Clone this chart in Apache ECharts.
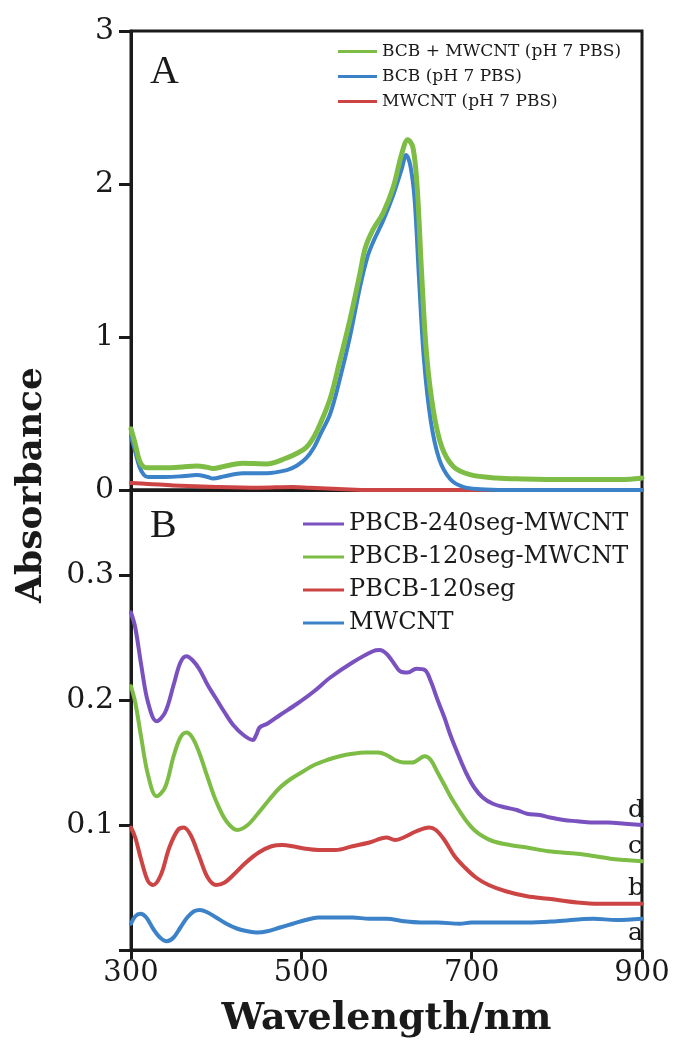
<!DOCTYPE html>
<html>
<head>
<meta charset="utf-8">
<script src="https://cdn.jsdelivr.net/npm/echarts@6/dist/echarts.min.js"></script>
<style>
html,body{margin:0;padding:0;background:#fff;}
#chart{width:675px;height:1047px;}
</style>
</head>
<body>
<div id="chart"></div>
<script>
// ---------- Panel A data ----------
const namesA = ['BCB + MWCNT (pH 7 PBS)', 'BCB (pH 7 PBS)', 'MWCNT (pH 7 PBS)'];
const wlA_green = [300,305,310,315,320,340,360,377,390,396,410,431,459,483,495,506,515,522,534,545,557,569,575,584,596,608,618,625,631,636,641,647,655,665,679,698,729,760,807,850,886,900];
const absA_green = [0.40,0.30,0.19,0.15,0.145,0.145,0.15,0.157,0.148,0.14,0.155,0.175,0.17,0.21,0.24,0.28,0.35,0.43,0.60,0.84,1.11,1.42,1.58,1.70,1.81,1.98,2.20,2.29,2.24,1.98,1.44,0.89,0.52,0.28,0.15,0.10,0.078,0.072,0.068,0.068,0.070,0.078];
const wlA_blue = [300,305,310,315,320,340,360,377,390,396,410,431,459,483,495,506,515,522,534,545,557,569,578,585,596,608,618,623,628,633,638,644,652,662,675,690,710,740,800,900];
const absA_blue = [0.35,0.25,0.15,0.10,0.085,0.085,0.09,0.098,0.085,0.075,0.09,0.11,0.11,0.13,0.16,0.21,0.28,0.36,0.50,0.72,1.0,1.33,1.53,1.63,1.76,1.93,2.10,2.19,2.12,1.90,1.40,0.85,0.45,0.20,0.07,0.02,0.005,0,0,0];
const wlA_red = [300,320,350,400,450,490,510,550,580,650,900];
const absA_red = [0.045,0.04,0.03,0.02,0.015,0.02,0.015,0.005,0,0,0];

// ---------- Panel B data ----------
const namesB = ['PBCB-240seg-MWCNT', 'PBCB-120seg-MWCNT', 'PBCB-120seg', 'MWCNT'];
const curveTags = ['d', 'c', 'b', 'a'];
const wlB_d = [300,305,312,320,330,340,350,358,365,372,380,390,400,410,420,432,443,447,451,460,475,495,515,534,560,584,592,600,608,616,625,635,645,652,660,668,675,685,694,703,713,725,740,753,765,780,792,808,824,840,860,880,900];
const absB_d = [0.270,0.258,0.228,0.198,0.183,0.190,0.212,0.230,0.235,0.232,0.225,0.212,0.201,0.190,0.180,0.172,0.168,0.172,0.178,0.181,0.188,0.197,0.207,0.218,0.230,0.239,0.240,0.237,0.230,0.223,0.222,0.225,0.224,0.215,0.200,0.186,0.172,0.155,0.141,0.130,0.122,0.117,0.114,0.112,0.109,0.108,0.106,0.104,0.103,0.102,0.102,0.101,0.100];
const wlB_c = [300,305,312,320,330,340,350,358,365,372,380,390,400,412,425,437,450,462,475,488,500,515,530,545,560,575,590,600,610,620,630,645,652,660,668,675,685,694,703,713,725,745,765,790,824,845,863,880,900];
const absB_c = [0.211,0.198,0.170,0.140,0.123,0.130,0.155,0.170,0.174,0.170,0.158,0.138,0.119,0.103,0.096,0.100,0.110,0.120,0.130,0.137,0.142,0.148,0.152,0.155,0.157,0.158,0.158,0.156,0.152,0.150,0.150,0.155,0.152,0.142,0.132,0.123,0.112,0.103,0.096,0.091,0.087,0.084,0.082,0.079,0.077,0.075,0.073,0.072,0.071];
const wlB_b = [300,305,312,320,326,335,345,355,362,370,380,390,400,410,420,435,450,465,478,490,505,520,540,560,580,600,610,620,635,650,658,668,680,692,705,720,740,765,790,824,850,870,900];
const absB_b = [0.098,0.090,0.072,0.055,0.052,0.060,0.082,0.096,0.098,0.092,0.075,0.058,0.052,0.054,0.060,0.070,0.078,0.083,0.084,0.083,0.081,0.080,0.080,0.083,0.086,0.090,0.088,0.090,0.095,0.098,0.096,0.088,0.075,0.066,0.058,0.052,0.047,0.043,0.041,0.038,0.037,0.037,0.037];
const wlB_a = [300,305,311,318,326,334,342,350,358,366,374,381,390,400,412,425,437,448,460,475,490,505,520,540,560,580,600,620,640,660,686,700,730,765,800,843,870,900];
const absB_a = [0.021,0.027,0.029,0.026,0.017,0.010,0.007,0.010,0.018,0.026,0.031,0.032,0.030,0.026,0.021,0.017,0.015,0.014,0.015,0.018,0.021,0.024,0.026,0.026,0.026,0.025,0.025,0.023,0.022,0.022,0.021,0.022,0.022,0.022,0.023,0.025,0.024,0.025];

// ---------- tick labels ----------
const xTicks = [300, 500, 700, 900];
const yTicksA = [0, 1, 2, 3];
const yTicksB = [0.1, 0.2, 0.3];

const GREEN = '#7dbd45', BLUE = '#3b82c8', RED = '#cc4444', PURPLE = '#7a52c0';
const SERIF = '"Liberation Serif", serif';
const WSERIF = '"DejaVu Serif", serif';
const INK = '#1a1a1a';

function pairs(xs, ys) { return xs.map((x, i) => [x, ys[i]]); }

const chart = echarts.init(document.getElementById('chart'));

const axisLineStyle = { lineStyle: { color: INK, width: 3 } };
const yTickStyle = { show: true, inside: false, length: 12, lineStyle: { color: INK, width: 3 } };

function lineSeries(name, xi, yi, data, color, width, tag) {
  const s = {
    name, type: 'line', xAxisIndex: xi, yAxisIndex: yi,
    data, smooth: 0.35, symbol: 'none', showSymbol: false,
    lineStyle: { color, width, join: 'round', cap: 'round' }, itemStyle: { color },
    emphasis: { disabled: true }, animation: false
  };
  if (tag) {
    s.endLabel = {
      show: true, formatter: tag.text, color: INK, fontFamily: WSERIF, fontSize: 25,
      offset: tag.offset
    };
  }
  return s;
}

const option = {
  animation: false,
  backgroundColor: '#fff',
  grid: [
    { left: 131, right: 33, top: 31, height: 459, show: true, borderColor: INK, borderWidth: 3, containLabel: false },
    { left: 131, right: 33, top: 490, height: 460, show: true, borderColor: INK, borderWidth: 3, containLabel: false }
  ],
  xAxis: [
    { type: 'value', gridIndex: 0, min: 300, max: 900, interval: 200,
      axisLine: axisLineStyle, axisTick: { show: false }, axisLabel: { show: false }, splitLine: { show: false } },
    { type: 'value', gridIndex: 1, min: 300, max: 900, interval: 200,
      axisLine: axisLineStyle,
      axisTick: { show: true, inside: false, length: 9, lineStyle: { color: INK, width: 3 } },
      axisLabel: { show: true, color: INK, fontFamily: WSERIF, fontSize: 29, margin: 9,
        formatter: v => xTicks.includes(v) ? String(v) : '' },
      splitLine: { show: false },
      name: 'Wavelength/nm', nameLocation: 'middle', nameGap: 50,
      nameTextStyle: { color: INK, fontFamily: WSERIF, fontWeight: 'bold', fontSize: 38, verticalAlign: 'top' } }
  ],
  yAxis: [
    { type: 'value', gridIndex: 0, min: 0, max: 3, interval: 1,
      axisLine: { show: true, ...axisLineStyle }, axisTick: yTickStyle,
      axisLabel: { color: INK, fontFamily: WSERIF, fontSize: 30, margin: 17,
        formatter: v => yTicksA.includes(v) ? String(v) : '' },
      splitLine: { show: false } },
    { type: 'value', gridIndex: 1, min: 0, max: 0.368, interval: 0.1,
      axisLine: { show: true, ...axisLineStyle }, axisTick: yTickStyle,
      axisLabel: { color: INK, fontFamily: WSERIF, fontSize: 30, margin: 17, showMaxLabel: false,
        formatter: v => { const m = yTicksB.find(t => Math.abs(t - v) < 1e-6); return m !== undefined ? m.toFixed(1) : ''; } },
      splitLine: { show: false } }
  ],
  legend: [
    { data: namesA, orient: 'vertical', left: 333, top: 38, itemWidth: 39, itemHeight: 3, itemGap: 8,
      icon: 'rect', selectedMode: false,
      textStyle: { color: INK, fontFamily: WSERIF, fontSize: 17, lineHeight: 17 } },
    { data: namesB, orient: 'vertical', left: 298, top: 507, itemWidth: 41, itemHeight: 3, itemGap: 9,
      icon: 'rect', selectedMode: false,
      textStyle: { color: INK, fontFamily: WSERIF, fontSize: 24, lineHeight: 24 } }
  ],
  graphic: [
    { type: 'text', left: 150, top: 52, style: { text: 'A', fill: INK, font: '40px ' + SERIF } },
    { type: 'text', left: 150, top: 506, style: { text: 'B', fill: INK, font: '40px ' + SERIF } },
    { type: 'text', x: 32, y: 485, rotation: Math.PI / 2,
      style: { text: 'Absorbance', fill: INK, font: 'bold 36px ' + WSERIF, align: 'center', verticalAlign: 'middle' } }
  ],
  series: [
    lineSeries(namesA[2], 0, 0, pairs(wlA_red, absA_red), RED, 4),
    lineSeries(namesA[1], 0, 0, pairs(wlA_blue, absA_blue), BLUE, 4),
    lineSeries(namesA[0], 0, 0, pairs(wlA_green, absA_green), GREEN, 5),
    lineSeries(namesB[3], 1, 1, pairs(wlB_a, absB_a), BLUE, 4, { text: curveTags[3], offset: [-22, 15] }),
    lineSeries(namesB[2], 1, 1, pairs(wlB_b, absB_b), RED, 4, { text: curveTags[2], offset: [-22, -15] }),
    lineSeries(namesB[1], 1, 1, pairs(wlB_c, absB_c), GREEN, 4, { text: curveTags[1], offset: [-22, -15] }),
    lineSeries(namesB[0], 1, 1, pairs(wlB_d, absB_d), PURPLE, 4, { text: curveTags[0], offset: [-22, -15] })
  ]
};
chart.setOption(option);
</script>
</body>
</html>
